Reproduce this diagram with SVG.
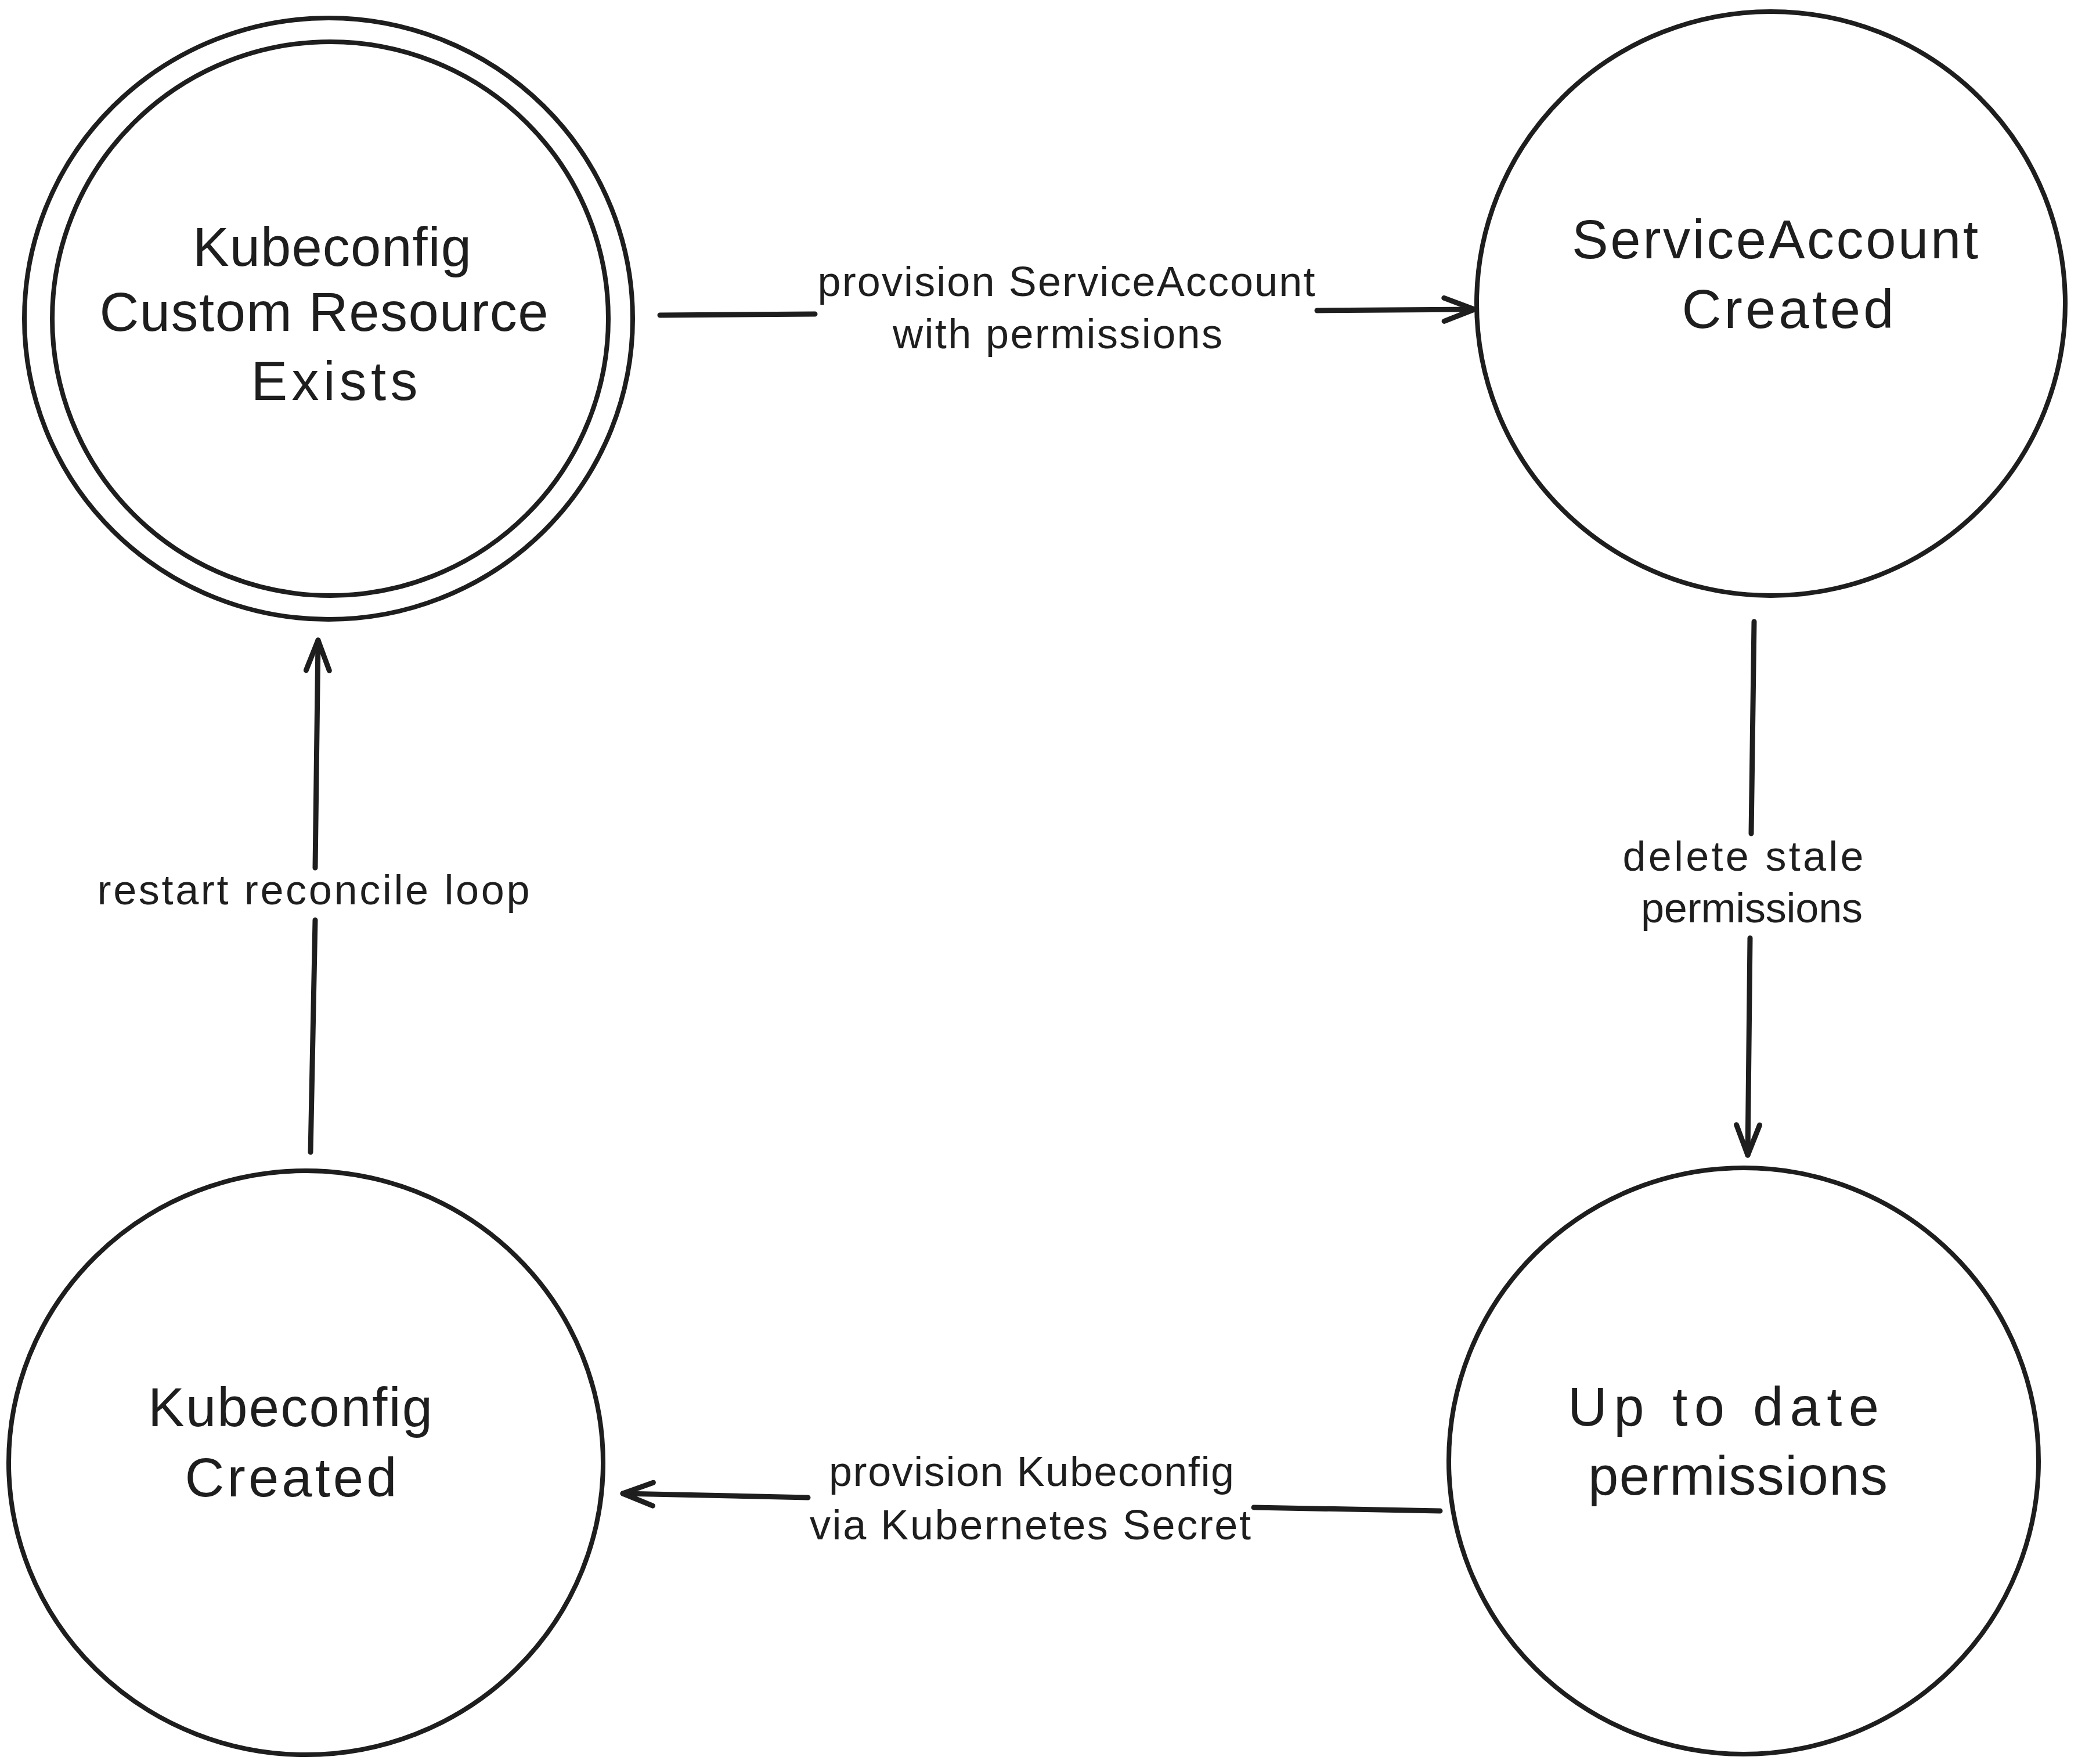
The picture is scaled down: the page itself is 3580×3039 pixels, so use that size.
<svg xmlns="http://www.w3.org/2000/svg" width="3580" height="3039" viewBox="0 0 3580 3039">
<style>
.node{fill:none;stroke:#1e1e1e;stroke-width:8}
.edge{fill:none;stroke:#1e1e1e;stroke-width:9;stroke-linecap:round}
.nt{font-family:"Liberation Sans","Noto Sans",sans-serif;font-size:94px;fill:#1e1e1e;text-anchor:middle}
.et{font-family:"Liberation Sans","Noto Sans",sans-serif;font-size:72px;fill:#1e1e1e;text-anchor:middle}
</style>
<defs>
<marker id="arrow" markerUnits="userSpaceOnUse" viewBox="-60 -30 70 60" refX="0" refY="0" markerWidth="70" markerHeight="60" orient="auto" overflow="visible">
<path d="M-52,-20 L0,0 L-52,20" fill="none" stroke="#1e1e1e" stroke-width="9" stroke-linecap="round" stroke-linejoin="round"/>
</marker>
</defs>
<rect x="0" y="0" width="3580" height="3039" fill="#ffffff"/>
<g id="node-kubeconfig-cr">
<ellipse class="node" cx="566" cy="549" rx="524" ry="518"/>
<ellipse class="node" cx="569" cy="549" rx="479" ry="477"/>
<text class="nt" x="572" y="458" textLength="480" lengthAdjust="spacing">Kubeconfig</text>
<text class="nt" x="558" y="570" textLength="773" lengthAdjust="spacing">Custom Resource</text>
<text class="nt" x="576" y="689" textLength="287" lengthAdjust="spacing">Exists</text>
</g>
<g id="node-sa-created">
<ellipse class="node" cx="3051" cy="523" rx="507" ry="503"/>
<text class="nt" x="3058" y="445" textLength="700" lengthAdjust="spacing">ServiceAccount</text>
<text class="nt" x="3080" y="565" textLength="365" lengthAdjust="spacing">Created</text>
</g>
<g id="node-uptodate">
<ellipse class="node" cx="3004" cy="2517" rx="508" ry="505"/>
<text class="nt" x="2969" y="2456" textLength="536" lengthAdjust="spacing">Up to date</text>
<text class="nt" x="2994" y="2575" textLength="516" lengthAdjust="spacing">permissions</text>
</g>
<g id="node-kubeconfig-created">
<ellipse class="node" cx="527" cy="2520" rx="512" ry="503"/>
<text class="nt" x="500" y="2457" textLength="490" lengthAdjust="spacing">Kubeconfig</text>
<text class="nt" x="501" y="2578" textLength="365" lengthAdjust="spacing">Created</text>
</g>
<g id="connectors">
<g id="edge-provision-sa">
<path class="edge" d="M1137,543 L1404,541"/>
<path class="edge" d="M2269,535 L2540,533" marker-end="url(#arrow)"/>
<text class="et" x="1837" y="510" textLength="857" lengthAdjust="spacing">provision ServiceAccount</text>
<text class="et" x="1822" y="600" textLength="568" lengthAdjust="spacing">with permissions</text>
</g>
<g id="edge-delete-stale">
<path class="edge" d="M3022,1071 L3017,1436"/>
<path class="edge" d="M3015,1616 L3011,1990" marker-end="url(#arrow)"/>
<text class="et" x="3003" y="1500" textLength="415" lengthAdjust="spacing">delete stale</text>
<text class="et" x="3018" y="1589" textLength="382" lengthAdjust="spacing">permissions</text>
</g>
<g id="edge-provision-kubeconfig">
<path class="edge" d="M2481,2603 L2160,2597"/>
<path class="edge" d="M1392,2580 L1073,2573" marker-end="url(#arrow)"/>
<text class="et" x="1777" y="2560" textLength="698" lengthAdjust="spacing">provision Kubeconfig</text>
<text class="et" x="1775" y="2652" textLength="760" lengthAdjust="spacing">via Kubernetes Secret</text>
</g>
<g id="edge-restart">
<path class="edge" d="M535,1985 L543,1585"/>
<path class="edge" d="M543,1495 L548,1103" marker-end="url(#arrow)"/>
<text class="et" x="540" y="1558" textLength="745" lengthAdjust="spacing">restart reconcile loop</text>
</g>
</g>
</svg>
